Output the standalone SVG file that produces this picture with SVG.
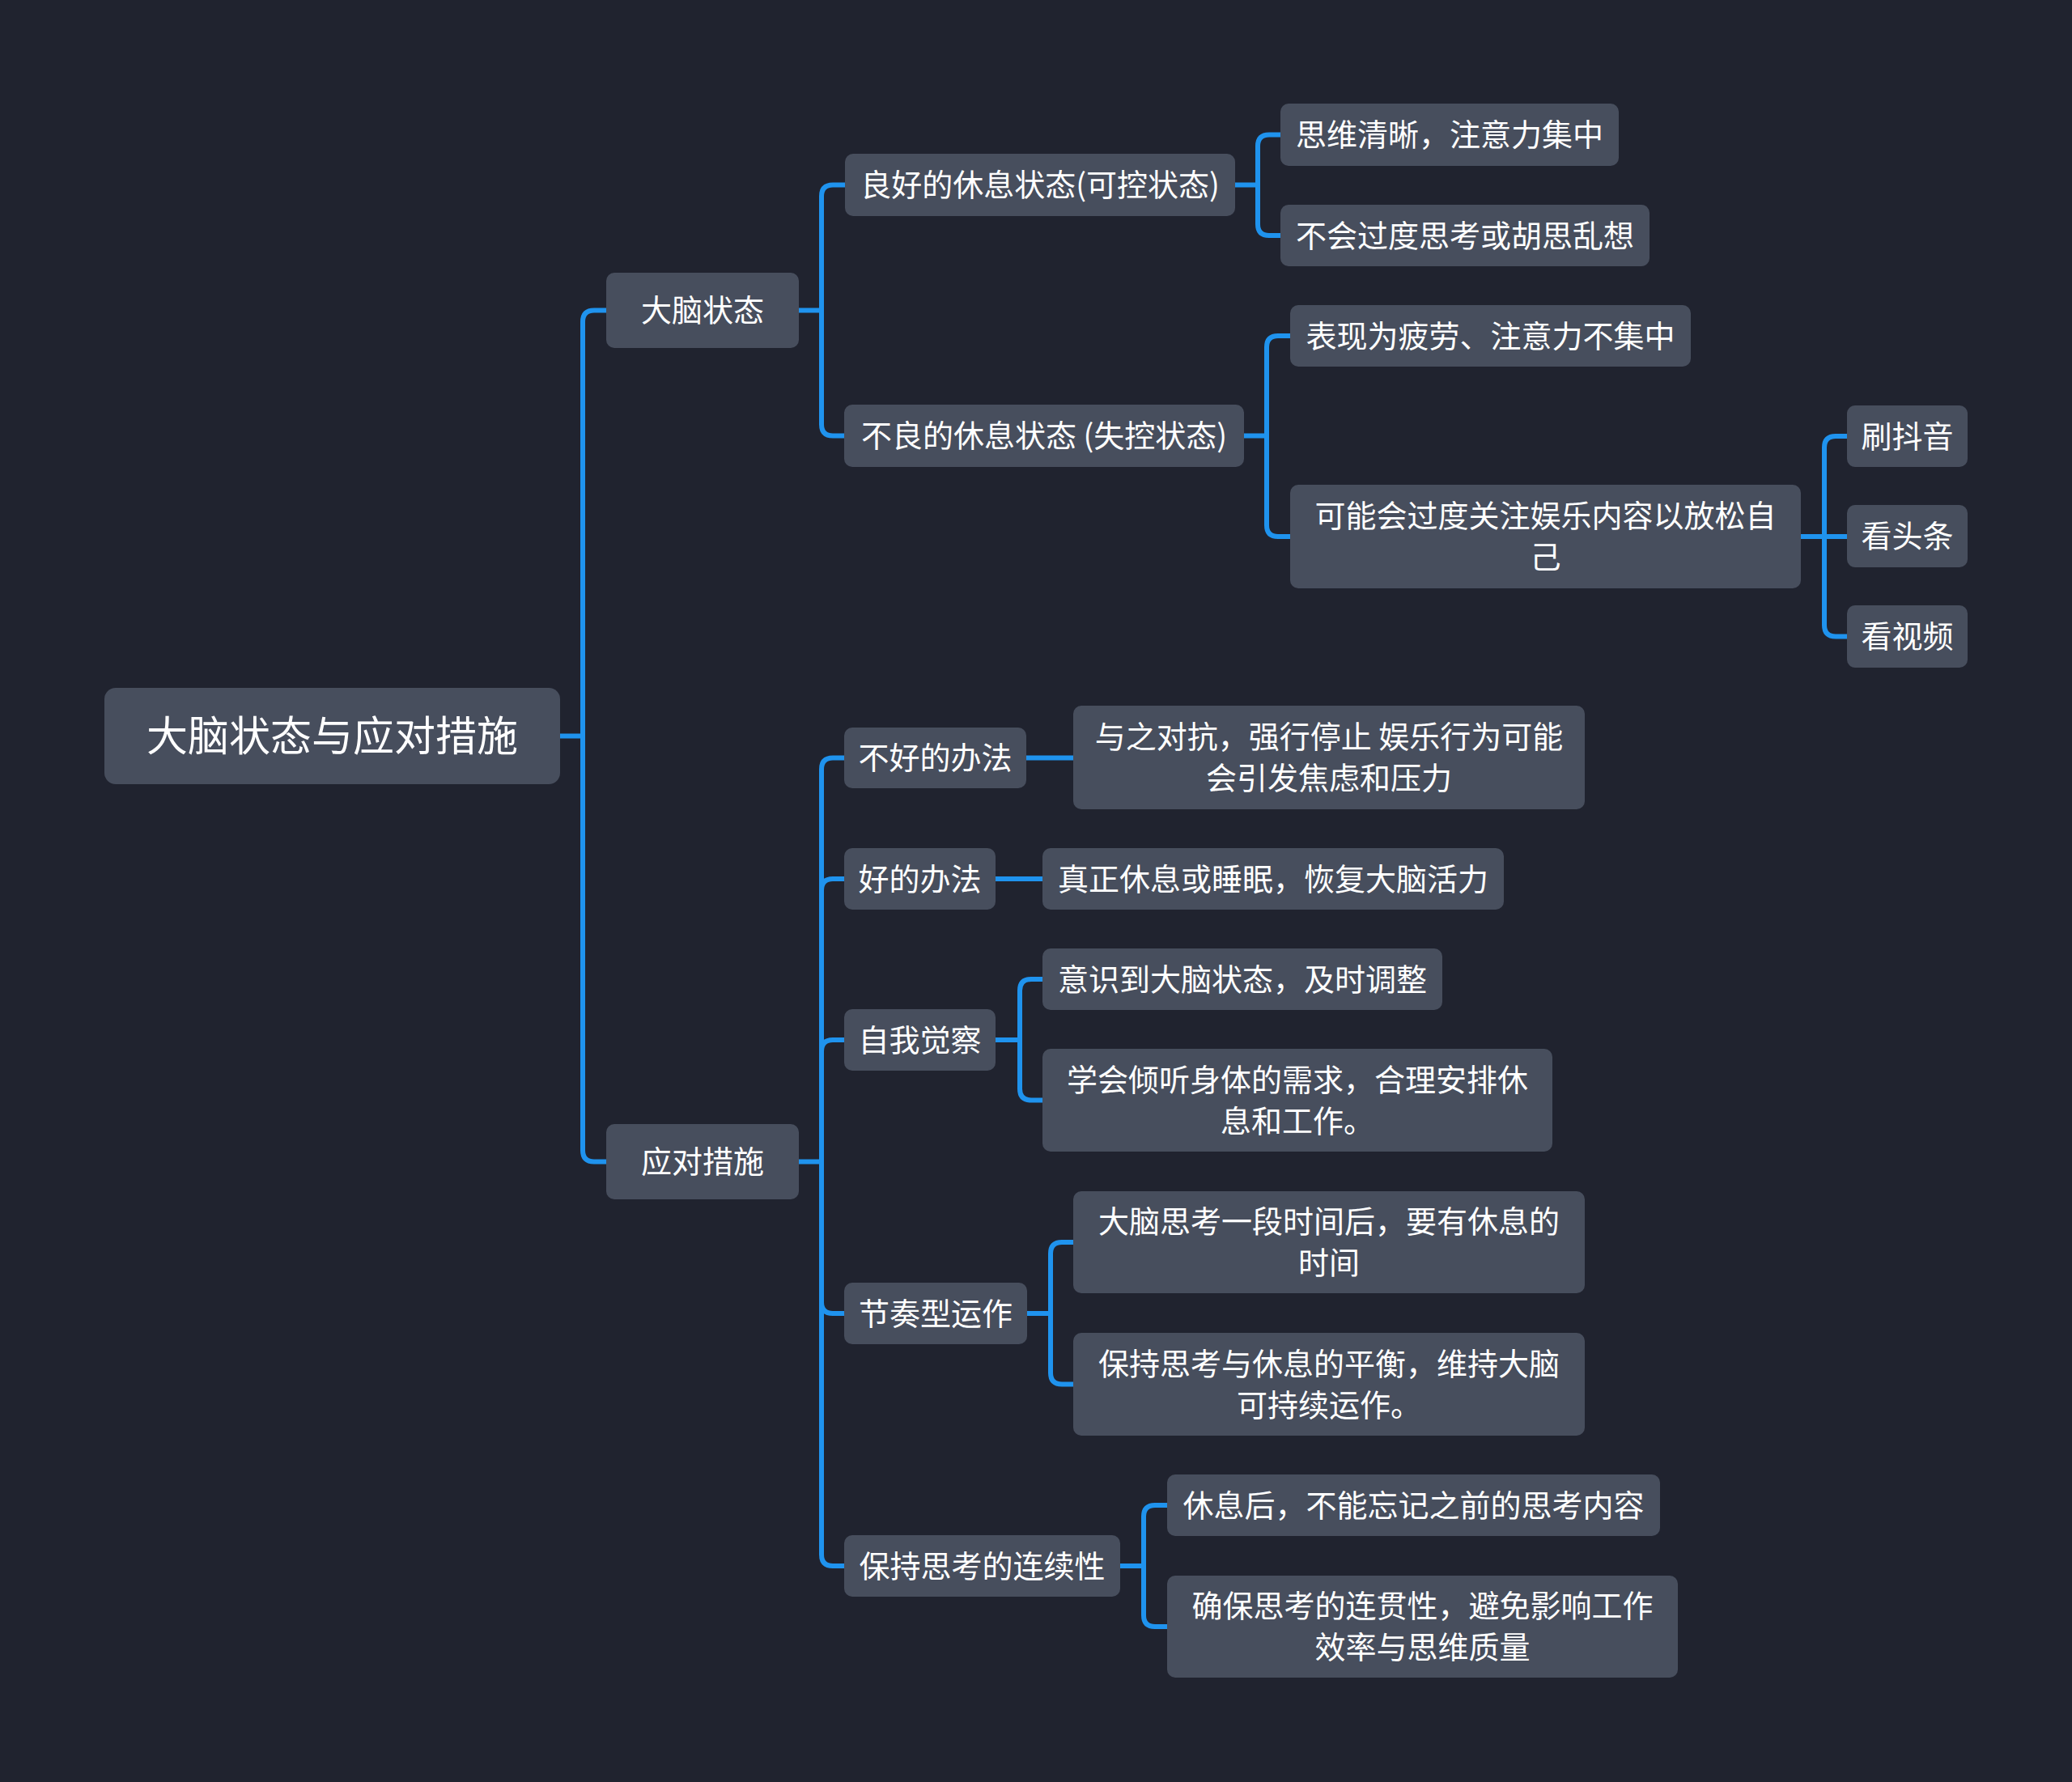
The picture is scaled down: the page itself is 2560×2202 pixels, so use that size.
<svg xmlns="http://www.w3.org/2000/svg" width="2560" height="2202" viewBox="0 0 2560 2202">
<style>
.bg{fill:#20232f}
.n rect{fill:#474e5d}
.n text{fill:#ffffff;font-family:"Noto Sans CJK SC","Noto Sans",sans-serif;font-size:38px;text-anchor:middle}
.root text{font-size:51px}
.c path{fill:none;stroke:#1f93ee;stroke-width:6;stroke-linecap:butt;stroke-linejoin:round}
</style>
<rect class="bg" x="0" y="0" width="2560" height="2202"/>
<g class="c" id="connectors">
<path d="M692,909.5 H720 M720,909.5 V397.5 Q720,383.5 734,383.5 H749 M720,909.5 V1421.5 Q720,1435.5 734,1435.5 H749"/>
<path d="M987,383.5 H1015 M1015,383.5 V242.5 Q1015,228.5 1029,228.5 H1044 M1015,383.5 V524.5 Q1015,538.5 1029,538.5 H1043"/>
<path d="M1526,228.5 H1554 M1554,228.5 V180.5 Q1554,166.5 1568,166.5 H1582 M1554,228.5 V277 Q1554,291 1568,291 H1582"/>
<path d="M1537,538.5 H1565 M1565,538.5 V429 Q1565,415 1579,415 H1594 M1565,538.5 V649 Q1565,663 1579,663 H1594"/>
<path d="M2225,663 H2282 M2254,663 V553 Q2254,539 2268,539 H2282 M2254,663 V772.5 Q2254,786.5 2268,786.5 H2282"/>
<path d="M987,1435.5 H1015 M1015,1435.5 V950.5 Q1015,936.5 1029,936.5 H1043 M1015,1100 Q1015,1086 1029,1086 H1043 M1015,1299 Q1015,1285 1029,1285 H1043 M1015,1435.5 V1921 Q1015,1935 1029,1935 H1043 M1015,1609 Q1015,1623 1029,1623 H1043"/>
<path d="M1268,936.5 H1326"/>
<path d="M1230,1086 H1288"/>
<path d="M1230,1285 H1260 M1260,1285 V1224 Q1260,1210 1274,1210 H1288 M1260,1285 V1345.5 Q1260,1359.5 1274,1359.5 H1288"/>
<path d="M1269,1623 H1298 M1298,1623 V1549 Q1298,1535 1312,1535 H1326 M1298,1623 V1696.5 Q1298,1710.5 1312,1710.5 H1326"/>
<path d="M1384,1935 H1413 M1413,1935 V1874 Q1413,1860 1427,1860 H1442 M1413,1935 V1996 Q1413,2010 1427,2010 H1442"/>
</g>
<g class="n root" id="root"><rect x="129" y="850" width="563" height="119" rx="14"/><text x="410.5" y="928">大脑状态与应对措施</text></g>
<g class="n" id="n1"><rect x="749" y="337" width="238" height="93" rx="10"/><text x="868" y="397">大脑状态</text></g>
<g class="n" id="n2"><rect x="749" y="1389" width="238" height="93" rx="10"/><text x="868" y="1449">应对措施</text></g>
<g class="n" id="n11"><rect x="1044" y="190" width="482" height="77" rx="10"/><text x="1285" y="242">良好的休息状态(可控状态)</text></g>
<g class="n" id="n12"><rect x="1043" y="500" width="494" height="77" rx="10"/><text x="1290" y="552">不良的休息状态 (失控状态)</text></g>
<g class="n" id="n111"><rect x="1582" y="128" width="418" height="77" rx="10"/><text x="1791" y="180">思维清晰，注意力集中</text></g>
<g class="n" id="n112"><rect x="1582" y="253" width="456" height="76" rx="10"/><text x="1810" y="304.5">不会过度思考或胡思乱想</text></g>
<g class="n" id="n121"><rect x="1594" y="377" width="495" height="76" rx="10"/><text x="1841.5" y="428.5">表现为疲劳、注意力不集中</text></g>
<g class="n" id="n122"><rect x="1594" y="599" width="631" height="128" rx="10"/><text x="1909.5" y="651">可能会过度关注娱乐内容以放松自</text><text x="1909.5" y="702">己</text></g>
<g class="n" id="n1221"><rect x="2282" y="501" width="149" height="76" rx="10"/><text x="2356.5" y="552.5">刷抖音</text></g>
<g class="n" id="n1222"><rect x="2282" y="624" width="149" height="77" rx="10"/><text x="2356.5" y="676">看头条</text></g>
<g class="n" id="n1223"><rect x="2282" y="748" width="149" height="77" rx="10"/><text x="2356.5" y="800">看视频</text></g>
<g class="n" id="n21"><rect x="1043" y="899" width="225" height="75" rx="10"/><text x="1155.5" y="950">不好的办法</text></g>
<g class="n" id="n211"><rect x="1326" y="872" width="632" height="128" rx="10"/><text x="1642" y="924">与之对抗，强行停止 娱乐行为可能</text><text x="1642" y="975">会引发焦虑和压力</text></g>
<g class="n" id="n22"><rect x="1043" y="1048" width="187" height="76" rx="10"/><text x="1136.5" y="1099.5">好的办法</text></g>
<g class="n" id="n221"><rect x="1288" y="1048" width="570" height="76" rx="10"/><text x="1573" y="1099.5">真正休息或睡眠，恢复大脑活力</text></g>
<g class="n" id="n23"><rect x="1043" y="1247" width="187" height="76" rx="10"/><text x="1136.5" y="1298.5">自我觉察</text></g>
<g class="n" id="n231"><rect x="1288" y="1172" width="494" height="76" rx="10"/><text x="1535" y="1223.5">意识到大脑状态，及时调整</text></g>
<g class="n" id="n232"><rect x="1288" y="1296" width="630" height="127" rx="10"/><text x="1603" y="1347.5">学会倾听身体的需求，合理安排休</text><text x="1603" y="1398.5">息和工作。</text></g>
<g class="n" id="n24"><rect x="1043" y="1585" width="226" height="76" rx="10"/><text x="1156" y="1636.5">节奏型运作</text></g>
<g class="n" id="n241"><rect x="1326" y="1472" width="632" height="126" rx="10"/><text x="1642" y="1523">大脑思考一段时间后，要有休息的</text><text x="1642" y="1574">时间</text></g>
<g class="n" id="n242"><rect x="1326" y="1647" width="632" height="127" rx="10"/><text x="1642" y="1698.5">保持思考与休息的平衡，维持大脑</text><text x="1642" y="1749.5">可持续运作。</text></g>
<g class="n" id="n25"><rect x="1043" y="1897" width="341" height="76" rx="10"/><text x="1213.5" y="1948.5">保持思考的连续性</text></g>
<g class="n" id="n251"><rect x="1442" y="1822" width="609" height="76" rx="10"/><text x="1746.5" y="1873.5">休息后，不能忘记之前的思考内容</text></g>
<g class="n" id="n252"><rect x="1442" y="1947" width="631" height="126" rx="10"/><text x="1757.5" y="1998">确保思考的连贯性，避免影响工作</text><text x="1757.5" y="2049">效率与思维质量</text></g>
</svg>
